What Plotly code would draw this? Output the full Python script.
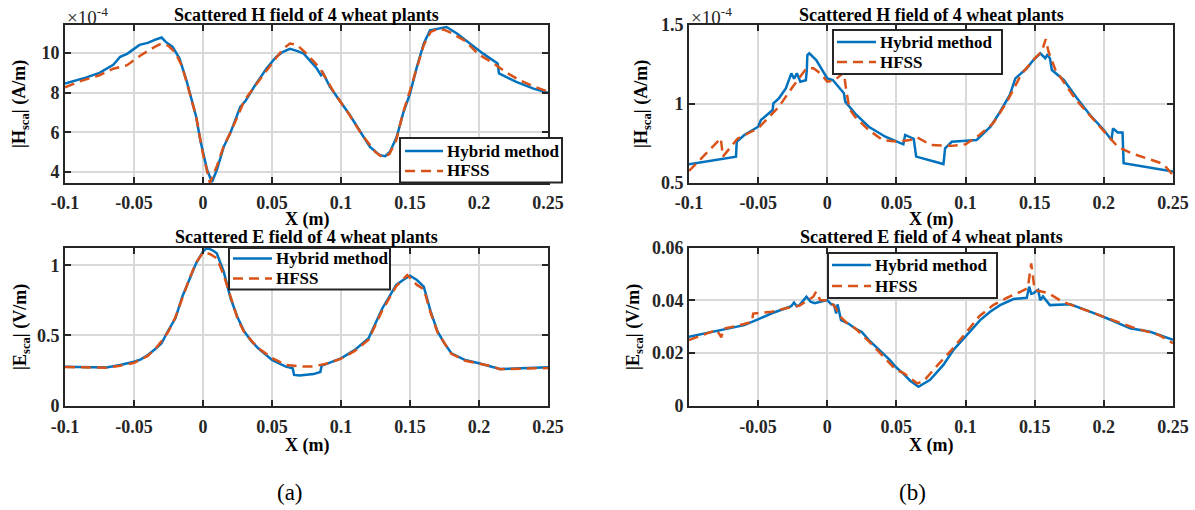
import plotly.graph_objects as go

# ---------------- data ----------------
# Panel (a) top: |H_sca| (x1e-4 A/m)
a_h_hyb_x = [-0.1, -0.085, -0.075, -0.068, -0.065, -0.060, -0.055, -0.046, -0.040, -0.035, -0.030, -0.027,
             -0.022, -0.017, -0.015, -0.012, -0.010, -0.007, -0.005, -0.002, 0.0, 0.003, 0.0065, 0.010, 0.015,
             0.020, 0.027, 0.031, 0.037, 0.046, 0.053, 0.058, 0.063, 0.068, 0.073, 0.0785, 0.0825, 0.0855,
             0.087, 0.092, 0.099, 0.1065, 0.114, 0.121, 0.128, 0.132, 0.1355, 0.1404, 0.145, 0.150, 0.155,
             0.160, 0.1645, 0.1705, 0.1765, 0.184, 0.1935, 0.203, 0.2135, 0.2145, 0.227, 0.2395, 0.25]
a_h_hyb_y = [8.46, 8.75, 8.99, 9.25, 9.40, 9.80, 9.95, 10.40, 10.50, 10.65, 10.77, 10.55,
             10.30, 9.71, 9.30, 8.62, 8.10, 7.28, 6.80, 5.61, 5.00, 4.10, 3.50, 4.10, 5.27,
             6.00, 7.28, 7.60, 8.29, 9.21, 9.79, 10.05, 10.20, 10.10, 9.96, 9.55, 9.21, 8.87,
             8.98, 8.29, 7.62, 6.86, 6.03, 5.27, 4.85, 4.80, 5.02, 5.77, 6.95, 7.95, 9.29,
             10.47, 11.13, 11.22, 11.30, 10.97, 10.47, 9.96, 9.46, 8.96, 8.54, 8.20, 7.99]
a_h_hfss_x = [-0.1, -0.09, -0.075, -0.065, -0.055, -0.045, -0.035, -0.030, -0.025, -0.020, -0.015, -0.010,
              -0.005, 0.0, 0.005, 0.010, 0.015, 0.020, 0.030, 0.040, 0.050, 0.058, 0.063, 0.068, 0.075,
              0.085, 0.095, 0.105, 0.115, 0.125, 0.130, 0.135, 0.140, 0.145, 0.150, 0.155, 0.160, 0.165,
              0.170, 0.175, 0.180, 0.190, 0.200, 0.210, 0.220, 0.230, 0.240, 0.250]
a_h_hfss_y = [8.26, 8.55, 8.87, 9.20, 9.38, 9.88, 10.30, 10.47, 10.35, 10.00, 9.30, 8.10,
              6.80, 4.90, 3.45, 4.30, 5.30, 6.00, 7.60, 8.55, 9.45, 10.20, 10.47, 10.40, 9.96,
              9.20, 8.00, 7.00, 5.90, 5.00, 4.75, 4.90, 5.60, 7.00, 8.10, 9.30, 10.40, 11.05,
              11.20, 11.15, 11.00, 10.60, 9.90, 9.50, 9.00, 8.60, 8.30, 8.05]

# Panel (a) bottom: |E_sca| (V/m)
a_e_hyb_x = [-0.1, -0.085, -0.07, -0.06, -0.05, -0.045, -0.04, -0.035, -0.03, -0.025, -0.02, -0.015, -0.01,
             -0.005, 0.0, 0.003, 0.008, 0.01, 0.015, 0.02, 0.025, 0.03, 0.035, 0.04, 0.05, 0.06, 0.065,
             0.066, 0.07, 0.08, 0.085, 0.086, 0.09, 0.1, 0.11, 0.12, 0.125, 0.13, 0.135, 0.14, 0.145,
             0.15, 0.155, 0.16, 0.165, 0.17, 0.175, 0.18, 0.19, 0.2, 0.215, 0.23, 0.25]
a_e_hyb_y = [0.278, 0.275, 0.272, 0.290, 0.313, 0.330, 0.361, 0.400, 0.444, 0.539, 0.622, 0.776, 0.895,
             1.014, 1.097, 1.125, 1.100, 1.085, 0.954, 0.765, 0.630, 0.527, 0.460, 0.409, 0.325, 0.278, 0.266,
             0.219, 0.215, 0.225, 0.240, 0.285, 0.300, 0.337, 0.397, 0.480, 0.587, 0.694, 0.776, 0.860, 0.895,
             0.926, 0.895, 0.848, 0.670, 0.527, 0.444, 0.373, 0.325, 0.302, 0.261, 0.265, 0.273]
a_e_hfss_x = [-0.1, -0.085, -0.07, -0.06, -0.05, -0.04, -0.035, -0.03, -0.025, -0.02, -0.015, -0.01, -0.005,
              0.0, 0.005, 0.01, 0.015, 0.02, 0.025, 0.03, 0.04, 0.05, 0.06, 0.07, 0.08, 0.09, 0.1, 0.11,
              0.12, 0.13, 0.14, 0.148, 0.155, 0.16, 0.165, 0.17, 0.18, 0.19, 0.2, 0.21, 0.215, 0.23, 0.25]
a_e_hfss_y = [0.275, 0.270, 0.270, 0.285, 0.305, 0.355, 0.400, 0.460, 0.530, 0.630, 0.770, 0.900, 1.020,
              1.090, 1.080, 1.050, 0.930, 0.770, 0.620, 0.520, 0.410, 0.340, 0.290, 0.280, 0.280, 0.300, 0.335,
              0.390, 0.470, 0.680, 0.850, 0.930, 0.860, 0.830, 0.660, 0.520, 0.370, 0.320, 0.300, 0.280, 0.260,
              0.265, 0.268]

# Panel (b) top: |H_sca| (x1e-4 A/m)
b_h_hyb_x = [-0.1, -0.066, -0.0655, -0.06, -0.05, -0.048, -0.0395, -0.039, -0.035, -0.03, -0.026, -0.024,
             -0.022, -0.0195, -0.0155, -0.0148, -0.0144, -0.013, -0.008, -0.003, 0.0, 0.004, 0.009, 0.012,
             0.013, 0.02, 0.03, 0.042, 0.055, 0.0563, 0.0625, 0.0643, 0.084, 0.0852, 0.09, 0.108, 0.118,
             0.125, 0.132, 0.136, 0.1443, 0.149, 0.154, 0.1576, 0.159, 0.161, 0.1624, 0.171, 0.1806, 0.19,
             0.2, 0.2055, 0.2066, 0.21, 0.2135, 0.2143, 0.25]
b_h_hyb_y = [0.618, 0.667, 0.761, 0.804, 0.856, 0.899, 0.962, 1.004, 1.036, 1.099, 1.194, 1.160,
             1.194, 1.141, 1.150, 1.215, 1.310, 1.321, 1.278, 1.204, 1.162, 1.152, 1.099, 1.068,
             1.015, 0.941, 0.856, 0.793, 0.745, 0.804, 0.780, 0.667, 0.620, 0.720, 0.761, 0.772, 0.856,
             0.951, 1.057, 1.162, 1.226, 1.278, 1.321, 1.290, 1.310, 1.290, 1.215, 1.152, 1.036, 0.930,
             0.835, 0.772, 0.846, 0.820, 0.820, 0.625, 0.572]
b_h_hfss_x = [-0.1, -0.09, -0.077, -0.0755, -0.065, -0.05, -0.035, -0.025, -0.015, -0.01, -0.005, 0.0,
              0.005, 0.008, 0.012, 0.0135, 0.016, 0.02, 0.03, 0.04, 0.05, 0.06, 0.065, 0.075, 0.09, 0.1,
              0.11, 0.12, 0.13, 0.14, 0.15, 0.155, 0.158, 0.16, 0.165, 0.18, 0.2, 0.21, 0.22, 0.235,
              0.24, 0.245, 0.25]
b_h_hfss_y = [0.576, 0.667, 0.783, 0.667, 0.780, 0.846, 0.983, 1.109, 1.226, 1.226, 1.194, 1.141,
              1.150, 1.170, 1.200, 1.100, 0.970, 0.920, 0.835, 0.772, 0.762, 0.772, 0.789, 0.740, 0.735, 0.745,
              0.804, 0.878, 1.015, 1.184, 1.289, 1.330, 1.410, 1.331, 1.215, 1.025, 0.826, 0.730, 0.688, 0.646,
              0.630, 0.600, 0.550]

# Panel (b) bottom: |E_sca| (V/m)
b_e_hyb_x = [-0.1, -0.075, -0.06, -0.05, -0.04, -0.03, -0.026, -0.024, -0.022, -0.02, -0.015, -0.012,
             -0.009, -0.005, 0.0, 0.003, 0.005, 0.0065, 0.0075, 0.01, 0.015, 0.02, 0.025, 0.03, 0.04,
             0.045, 0.05, 0.055, 0.06, 0.066, 0.0744, 0.084, 0.0913, 0.101, 0.1106, 0.1178, 0.125, 0.1347,
             0.1443, 0.146, 0.1475, 0.149, 0.1525, 0.154, 0.156, 0.161, 0.1757, 0.19, 0.2022, 0.219,
             0.2335, 0.25]
b_e_hyb_y = [0.0262, 0.0288, 0.0306, 0.0328, 0.0351, 0.0370, 0.0378, 0.0392, 0.0378, 0.0382, 0.0414, 0.0395,
             0.0389, 0.0395, 0.0401, 0.0385, 0.0382, 0.0350, 0.0385, 0.0325, 0.0313, 0.0294, 0.0280, 0.0250, 0.0199,
             0.0175, 0.0145, 0.0122, 0.0095, 0.0072, 0.0098, 0.0155, 0.0212, 0.0269, 0.0325, 0.0357, 0.0382, 0.0405,
             0.0410, 0.0452, 0.0425, 0.0427, 0.0440, 0.0400, 0.0415, 0.0382, 0.0385, 0.0357, 0.0332, 0.0294,
             0.0281, 0.0250]
b_e_hfss_x = [-0.1, -0.08, -0.0765, -0.075, -0.06, -0.0545, -0.0535, -0.04, -0.03, -0.02, -0.01, -0.008,
              -0.005, 0.0, 0.005, 0.01, 0.015, 0.02, 0.03, 0.04, 0.05, 0.055, 0.065, 0.068, 0.07, 0.08,
              0.09, 0.1, 0.11, 0.12, 0.13, 0.14, 0.145, 0.1475, 0.15, 0.16, 0.17, 0.19, 0.2, 0.22, 0.24, 0.25]
b_e_hfss_y = [0.0249, 0.0288, 0.0260, 0.0292, 0.0310, 0.0318, 0.0350, 0.0357, 0.0370, 0.0380, 0.0414, 0.0433,
              0.0400, 0.0400, 0.0380, 0.0335, 0.0310, 0.0295, 0.0245, 0.0190, 0.0135, 0.0125, 0.0085, 0.0090,
              0.0095, 0.0155, 0.0212, 0.0275, 0.0340, 0.0382, 0.0410, 0.0433, 0.0446, 0.0540, 0.0440, 0.0427,
              0.0395, 0.0357, 0.0338, 0.0299, 0.0268, 0.0237]

x_tickvals_a = [-0.1, -0.05, 0, 0.05, 0.1, 0.15, 0.2, 0.25]
x_ticktext_a = ["-0.1", "-0.05", "0", "0.05", "0.1", "0.15", "0.2", "0.25"]
x_tickvals_b_bottom = [-0.05, 0, 0.05, 0.1, 0.15, 0.2, 0.25]
x_ticktext_b_bottom = ["-0.05", "0", "0.05", "0.1", "0.15", "0.2", "0.25"]
y_ticks_a_top = [4, 6, 8, 10]
y_ticks_a_bot = [0, 0.5, 1]
y_ticktext_a_bot = ["0", "0.5", "1"]
y_ticks_b_top = [0.5, 1, 1.5]
y_ticktext_b_top = ["0.5", "1", "1.5"]
y_ticks_b_bot = [0, 0.02, 0.04, 0.06]
y_ticktext_b_bot = ["0", "0.02", "0.04", "0.06"]

names = ["Hybrid method", "HFSS"]
title_h = "Scattered H field of 4 wheat plants"
title_e = "Scattered E field of 4 wheat plants"

# ---------------- style ----------------
W, H = 1195, 510
FONT = "Liberation Serif"
BLUE = "#0072BD"
ORANGE = "#D95319"
FRAME = "#262626"
GRID = "#d9d9d9"
DASH = "10px,6px"


def px_x(p):
    return p / W


def px_y(p):
    return 1 - p / H


fig = go.Figure()

panels = [
    ("x", "y", a_h_hyb_x, a_h_hyb_y, a_h_hfss_x, a_h_hfss_y),
    ("x2", "y2", a_e_hyb_x, a_e_hyb_y, a_e_hfss_x, a_e_hfss_y),
    ("x3", "y3", b_h_hyb_x, b_h_hyb_y, b_h_hfss_x, b_h_hfss_y),
    ("x4", "y4", b_e_hyb_x, b_e_hyb_y, b_e_hfss_x, b_e_hfss_y),
]
for xa, ya, hx, hy, fx, fy in panels:
    fig.add_trace(go.Scatter(x=hx, y=hy, mode="lines", name=names[0], xaxis=xa, yaxis=ya, showlegend=False,
                             line=dict(color=BLUE, width=2.5)))
    fig.add_trace(go.Scatter(x=fx, y=fy, mode="lines", name=names[1], xaxis=xa, yaxis=ya, showlegend=False,
                             line=dict(color=ORANGE, width=2.5, dash=DASH)))

tickfont = dict(family=FONT, size=18, color=FRAME, weight="bold")


def axis_style(domain, anchor, tickvals, ticktext, rng, standoff):
    return dict(domain=domain, anchor=anchor, range=rng, tickvals=tickvals, ticktext=ticktext,
                automargin=False, ticklabelstandoff=standoff,
                showline=True, linecolor=FRAME, linewidth=2, mirror="ticks", ticks="inside",
                ticklen=6, tickwidth=1.5, tickcolor=FRAME, showgrid=True, gridcolor=GRID, gridwidth=1.5,
                zeroline=False, tickfont=tickfont)


dom_xa = [px_x(65), px_x(548)]
dom_xb = [px_x(689), px_x(1173)]
dom_top = [px_y(183), px_y(25)]
dom_bot = [px_y(405.7), px_y(247.7)]

fig.update_layout(
    xaxis=axis_style(dom_xa, "y", x_tickvals_a, x_ticktext_a, [-0.1, 0.25], 2),
    yaxis=axis_style(dom_top, "x", y_ticks_a_top, [str(v) for v in y_ticks_a_top], [3.45, 11.4], 0),
    xaxis2=axis_style(dom_xa, "y2", x_tickvals_a, x_ticktext_a, [-0.1, 0.25], 4),
    yaxis2=axis_style(dom_bot, "x2", y_ticks_a_bot, y_ticktext_a_bot, [0, 1.125], 0),
    xaxis3=axis_style(dom_xb, "y3", x_tickvals_a, x_ticktext_a, [-0.1, 0.25], 2),
    yaxis3=axis_style(dom_top, "x3", y_ticks_b_top, y_ticktext_b_top, [0.5, 1.5], 0),
    xaxis4=axis_style(dom_xb, "y4", x_tickvals_b_bottom, x_ticktext_b_bottom, [-0.0999, 0.25], 4),
    yaxis4=axis_style(dom_bot, "x4", y_ticks_b_bot, y_ticktext_b_bot, [0, 0.06], 0),
)

# ---------------- legends (boxed, MATLAB-like) ----------------
shapes = []
ann = []
legend_font = dict(family=FONT, size=17, color="black", weight="bold")
# (left, top, right, bottom, row1_y, row2_y, sample_x0, sample_x1, text_x) in pixels
legend_boxes = [
    (400, 138, 562, 182.5, 151, 171, 405, 443, 446),
    (229, 248, 390, 289.5, 258.5, 278.5, 233, 272, 275),
    (833, 30, 1002, 74, 42, 62, 837, 876, 879),
    (828, 253, 997, 298, 265, 286, 832, 871, 874),
]
for (l, t, r, b, r1, r2, s0, s1, tx) in legend_boxes:
    shapes.append(dict(type="rect", xref="paper", yref="paper", x0=px_x(l), x1=px_x(r), y0=px_y(b), y1=px_y(t),
                       fillcolor="white", line=dict(color=FRAME, width=2), layer="above"))
    shapes.append(dict(type="line", xref="paper", yref="paper", x0=px_x(s0), x1=px_x(s1), y0=px_y(r1), y1=px_y(r1),
                       line=dict(color=BLUE, width=2.5), layer="above"))
    shapes.append(dict(type="line", xref="paper", yref="paper", x0=px_x(s0), x1=px_x(s1), y0=px_y(r2), y1=px_y(r2),
                       line=dict(color=ORANGE, width=2.5, dash=DASH), layer="above"))
    for ry, name in [(r1, names[0]), (r2, names[1])]:
        ann.append(dict(x=px_x(tx), y=px_y(ry), text=name, font=legend_font, showarrow=False,
                        xref="paper", yref="paper", xanchor="left", yanchor="middle", borderpad=0))

bold = dict(family=FONT, size=18, color="black", weight="bold")
lab = dict(family=FONT, size=18, color="black", weight="bold")
cx_a = (65 + 548) / 2
cx_b = (689 + 1173) / 2
for cx, cy, t in [(cx_a, 15, title_h), (cx_a, 237, title_e), (cx_b, 15, title_h), (cx_b, 237, title_e)]:
    ann.append(dict(x=px_x(cx), y=px_y(cy), text=t, font=bold, showarrow=False,
                    xref="paper", yref="paper", xanchor="center", yanchor="middle"))
for cx, cy in [(cx_a, 219), (cx_a, 445), (cx_b, 219), (cx_b, 445)]:
    ann.append(dict(x=px_x(cx), y=px_y(cy), text="X (m)", font=lab, showarrow=False,
                    xref="paper", yref="paper", xanchor="center", yanchor="middle"))
for cx, cy, t in [(21, 104, "|H<sub>sca</sub>| (A/m)"), (21, 327, "|E<sub>sca</sub>| (V/m)"),
                  (643, 104, "|H<sub>sca</sub>| (A/m)"), (634, 327, "|E<sub>sca</sub>| (V/m)")]:
    ann.append(dict(x=px_x(cx), y=px_y(cy), text=t, font=lab, showarrow=False, textangle=-90,
                    xref="paper", yref="paper", xanchor="center", yanchor="middle"))
for lx in [65, 689]:
    ann.append(dict(x=px_x(lx), y=px_y(16), text="×10<sup>-4</sup>",
                    font=dict(family=FONT, size=19, color=FRAME), showarrow=False,
                    xref="paper", yref="paper", xanchor="left", yanchor="middle"))
for cx, t in [(290, "(a)"), (912, "(b)")]:
    ann.append(dict(x=px_x(cx), y=px_y(492), text=t, font=dict(family=FONT, size=23, color="black"),
                    showarrow=False, xref="paper", yref="paper", xanchor="center", yanchor="middle"))

fig.update_layout(annotations=ann, shapes=shapes, width=W, height=H, margin=dict(l=0, r=0, t=0, b=0),
                  paper_bgcolor="white", plot_bgcolor="white", showlegend=False)

fig.write_html("out.html",
               post_script="document.body.style.margin='0';document.body.style.overflow='hidden';")
